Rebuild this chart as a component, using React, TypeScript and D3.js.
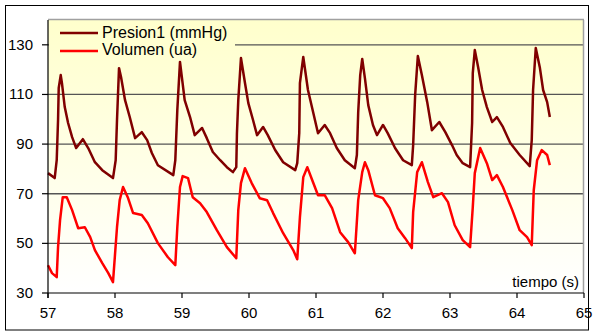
import React from "react";
import * as d3 from "d3";

// ---- Data ----
const xTicks = [57, 58, 59, 60, 61, 62, 63, 64, 65];
const yTicks = [30, 50, 70, 90, 110, 130];
const gridValues = [50, 70, 90, 110, 130];
const seriesNames = ["Presion1 (mmHg)", "Volumen (ua)"];
const xAxisTitle = "tiempo (s)";

// [tiempo (s), valor]
const presion1: [number, number][] = [
  [57.0, 78.3], [57.1, 76.3], [57.13, 83.5], [57.15, 99.7], [57.16, 112.6], [57.19, 117.8], [57.21, 114.2], [57.25, 104.9], [57.3, 98.5], [57.36, 92.8], [57.42, 88.4], [57.52, 92.0], [57.6, 88.4], [57.7, 82.7], [57.81, 79.5], [57.97, 76.3],
  [58.01, 83.5], [58.03, 99.7], [58.06, 120.6], [58.09, 117.0], [58.15, 107.7], [58.22, 100.9], [58.3, 92.4], [58.4, 94.8], [58.48, 91.6], [58.55, 86.4], [58.64, 81.5], [58.87, 77.5],
  [58.9, 83.5], [58.93, 103.7], [58.97, 123.1], [59.04, 107.7], [59.12, 100.9], [59.19, 93.6], [59.3, 96.5], [59.37, 92.4], [59.46, 86.8], [59.57, 83.5], [59.67, 80.7], [59.76, 78.7],
  [59.81, 80.7], [59.82, 94.4], [59.84, 107.7], [59.88, 124.7], [59.94, 114.6], [59.99, 106.5], [60.06, 99.7], [60.12, 93.6], [60.21, 96.9], [60.28, 93.6], [60.39, 87.6], [60.51, 82.7], [60.69, 79.5],
  [60.72, 82.3], [60.75, 94.4], [60.76, 114.6], [60.81, 125.1], [60.88, 111.8], [60.96, 102.5], [61.03, 94.4], [61.13, 97.7], [61.21, 94.4], [61.31, 88.4], [61.43, 83.5], [61.58, 80.3],
  [61.61, 85.6], [61.63, 102.9], [61.66, 117.8], [61.69, 124.3], [61.73, 116.6], [61.78, 105.7], [61.85, 97.7], [61.91, 93.6], [62.0, 97.7], [62.07, 94.4], [62.18, 88.4], [62.3, 83.5], [62.43, 81.5],
  [62.45, 89.6], [62.48, 109.8], [62.52, 125.5], [62.58, 117.8], [62.66, 106.9], [62.73, 95.6], [62.84, 98.9], [62.93, 94.8], [63.03, 89.6], [63.1, 85.6], [63.19, 82.3], [63.3, 80.7],
  [63.33, 98.5], [63.34, 118.6], [63.37, 127.9], [63.42, 121.0], [63.48, 111.8], [63.55, 104.9], [63.63, 98.9], [63.7, 100.9], [63.79, 96.9], [63.9, 90.4], [64.04, 85.6], [64.19, 81.1],
  [64.22, 91.6], [64.24, 111.8], [64.28, 128.7], [64.34, 121.0], [64.39, 111.8], [64.45, 106.9], [64.49, 100.9],
];

const volumen: [number, number][] = [
  [57.0, 41.2], [57.06, 38.0], [57.13, 36.4], [57.15, 48.5], [57.18, 59.4], [57.22, 68.6], [57.28, 68.6], [57.36, 63.4], [57.45, 56.1], [57.55, 56.5], [57.63, 52.5], [57.7, 47.3], [57.81, 42.0], [57.9, 38.0], [57.97, 34.4],
  [58.03, 56.5], [58.07, 67.4], [58.12, 72.7], [58.19, 68.6], [58.27, 62.2], [58.4, 61.4], [58.49, 58.1], [58.64, 50.1], [58.79, 44.4], [58.9, 41.2],
  [58.93, 56.5], [58.97, 72.7], [59.01, 77.1], [59.09, 76.3], [59.16, 68.6], [59.27, 66.2], [59.37, 62.6], [59.52, 55.3], [59.67, 48.5], [59.81, 44.0],
  [59.84, 63.4], [59.88, 74.3], [59.94, 80.3], [60.04, 74.3], [60.16, 68.2], [60.27, 67.4], [60.36, 62.2], [60.51, 54.1], [60.66, 47.3], [60.72, 43.6],
  [60.76, 60.6], [60.81, 76.7], [60.87, 80.7], [60.96, 74.3], [61.03, 69.4], [61.13, 69.4], [61.24, 64.2], [61.36, 54.5], [61.48, 50.5], [61.58, 46.0],
  [61.63, 67.4], [61.69, 78.7], [61.73, 82.7], [61.78, 79.5], [61.88, 69.4], [62.0, 68.2], [62.1, 64.2], [62.22, 56.1], [62.33, 52.1], [62.43, 48.1],
  [62.45, 62.6], [62.51, 78.7], [62.58, 82.7], [62.67, 74.7], [62.75, 68.6], [62.88, 70.2], [62.97, 66.6], [63.07, 57.3], [63.19, 51.3], [63.3, 48.5],
  [63.34, 64.6], [63.37, 78.3], [63.45, 88.4], [63.55, 82.3], [63.63, 75.5], [63.7, 77.5], [63.79, 72.7], [63.93, 63.4], [64.04, 55.3], [64.15, 52.5], [64.22, 49.3],
  [64.25, 71.4], [64.3, 83.5], [64.37, 87.6], [64.45, 85.6], [64.49, 81.5],
];

const colors = ["#800000", "#FF0000"];

export default function App() {
  const W = 593;
  const H = 333;
  const left = 48, right = 584, top = 20, bottom = 293;
  const x = d3.scaleLinear().domain([57, 65]).range([left, right]);
  const y = d3.scaleLinear().domain([30, 140]).range([bottom, top]);
  const line = d3
    .line<[number, number]>()
    .x((d) => x(d[0]))
    .y((d) => y(d[1]));
  const font = "'Liberation Sans', Arial, sans-serif";

  return (
    <svg
      width={W}
      height={H}
      style={{ position: "absolute", left: 0, top: 0, background: "#fff" }}
      fontFamily={font}
    >
      <defs>
        <linearGradient id="bg" gradientUnits="userSpaceOnUse" x1={0} y1={top} x2={0} y2={bottom}>
          <stop offset="0" stopColor="#FFFFCC" />
          <stop offset="1" stopColor="#FFFFFF" />
        </linearGradient>
      </defs>
      <rect x={0} y={0} width={W} height={H} fill="#fff" />
      <rect x={5.5} y={5.5} width={583} height={324.5} fill="none" stroke="#000" strokeWidth={1} />
      {/* plot area */}
      <rect x={left} y={top} width={right - left} height={bottom - top} fill="url(#bg)" />
      {gridValues.map((v) => (
        <line key={v} x1={left} x2={right} y1={y(v)} y2={y(v)} stroke="#555" strokeWidth={1.3} />
      ))}
      {/* plot border top/right */}
      <line x1={left} x2={right} y1={top - 0.5} y2={top - 0.5} stroke="#a0a0a0" strokeWidth={1.5} />
      <line x1={right - 0.5} x2={right - 0.5} y1={top} y2={bottom} stroke="#a0a0a0" strokeWidth={1.5} />
      {/* legend */}
      <rect x={left + 1} y={top + 1} width={186} height={40} fill="url(#bg)" />
      {seriesNames.map((name, i) => (
        <g key={name}>
          <line x1={60} x2={98} y1={33 + i * 18} y2={33 + i * 18} stroke={colors[i]} strokeWidth={2.5} />
          <text x={102} y={37.5 + i * 17.5} fontSize={16} fill="#000">
            {name}
          </text>
        </g>
      ))}
      {/* series */}
      <path d={line(volumen) || ""} fill="none" stroke={colors[1]} strokeWidth={2.5} strokeLinejoin="round" />
      <path d={line(presion1) || ""} fill="none" stroke={colors[0]} strokeWidth={2.5} strokeLinejoin="round" />
      {/* axes */}
      <line x1={left} x2={left} y1={top} y2={bottom + 5} stroke="#000" strokeWidth={1.2} />
      <line x1={left} x2={right} y1={bottom} y2={bottom} stroke="#000" strokeWidth={1.2} />
      {yTicks.map((v) => (
        <g key={v}>
          <line x1={left - 6} x2={left} y1={y(v)} y2={y(v)} stroke="#000" strokeWidth={1.2} />
          <text x={33} y={y(v) + 5} textAnchor="end" fontSize={15} fill="#000">
            {v}
          </text>
        </g>
      ))}
      {xTicks.map((v) => (
        <g key={v}>
          <line x1={x(v)} x2={x(v)} y1={bottom} y2={bottom + 5} stroke="#000" strokeWidth={1.2} />
          <text x={x(v)} y={318} textAnchor="middle" fontSize={15} fill="#000">
            {v}
          </text>
        </g>
      ))}
      <text x={579} y={287} textAnchor="end" fontSize={15} fill="#000">
        {xAxisTitle}
      </text>
    </svg>
  );
}
